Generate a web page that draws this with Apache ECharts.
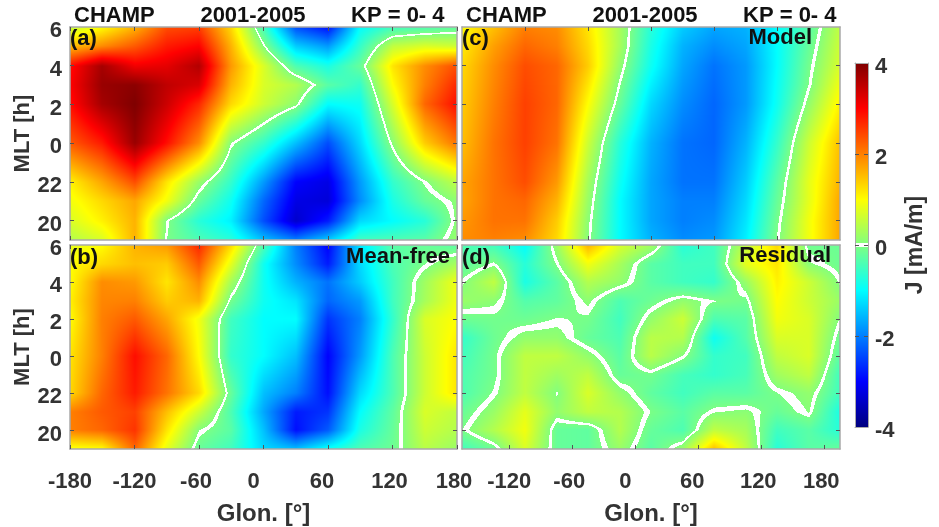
<!DOCTYPE html>
<html><head><meta charset="utf-8">
<style>html,body{margin:0;padding:0;background:#fff}#c{width:939px;height:527px}</style>
<script src="https://cdn.jsdelivr.net/npm/echarts@6/dist/echarts.min.js"></script>
</head><body><div id="c"></div>
<script>
// ---------- data ----------
const mltNodes = [19,20,21,22,24,26,27,28,29,30];            // hours, 24 = 0 h, 30 = 6 h
const mltNodesResidual = [19,20,21,22,23,24,25,26,27,28,29,30];
const lonNodesLeft  = [-180,-150,-120,-90,-60,-30,0,30,60,90,120,150,180];
const lonNodesRight = [-165,-135,-105,-75,-45,-15,15,45,75,105,135,165,195];
const lonTickLabels = ['-180','-120','-60','0','60','120','180'];
const mltTickValues = [20,22,24,26,28,30];
const mltTickLabels = ['20','22','0','2','4','6'];
const colorbarTicks = [-4,-2,0,2,4];

const panelA = [ // rows follow mltNodes
 [0.4,0.7,1.6,-0.05,-0.4,-0.7,-1.5,-2.0,-1.4,-0.5,-0.4,-0.3,0.2],
 [0.7,1.1,1.6,0.0,-0.7,-1.1,-2.4,-3.4,-2.8,-1.3,-1.0,-0.7,0.1],
 [0.9,1.3,1.7,0.9,-0.2,-0.9,-2.2,-3.2,-3.3,-1.9,-0.8,-0.2,0.1],
 [1.1,1.7,2.4,1.2,0.2,-0.6,-1.8,-3.0,-3.2,-1.8,-0.6,0.0,0.5],
 [2.3,2.8,3.8,2.9,1.9,0.05,-0.6,-1.5,-2.4,-1.3,0.1,1.4,2.1],
 [2.9,3.7,4.0,3.4,2.7,1.3,0.6,0.1,-1.0,-0.9,0.7,2.2,2.9],
 [3.0,3.8,3.9,3.5,3.3,1.6,0.7,0.4,-0.3,-0.6,1.0,2.0,2.7],
 [2.9,3.7,3.1,3.2,3.6,1.8,0.7,-0.4,-0.8,-0.2,1.2,1.9,2.4],
 [1.5,1.9,2.3,2.8,3.0,1.6,0.03,-1.4,-1.8,-0.6,0.5,0.7,0.6],
 [0.5,1.0,1.6,2.4,2.5,1.3,-0.5,-2.4,-2.9,-1.0,-0.5,-0.4,-0.25]
];
const panelB = [
 [0.9,1.0,2.2,0.8,-0.2,-0.5,-1.3,-1.5,-0.9,-0.4,-0.15,0.45,0.2],
 [2.0,2.2,2.6,1.2,0.05,-0.3,-1.5,-2.9,-2.3,-0.8,-0.2,0.6,0.4],
 [2.0,2.3,2.5,1.5,0.6,-0.4,-1.7,-2.8,-2.6,-1.0,-0.25,0.7,0.5],
 [1.3,2.2,2.8,2.1,1.3,-0.2,-1.5,-2.0,-2.9,-1.3,-0.4,0.6,1.2],
 [1.2,2.0,2.9,2.2,1.0,-0.6,-1.0,-1.5,-3.0,-1.8,-0.4,0.6,1.2],
 [1.0,2.0,2.3,1.7,0.9,-0.5,-1.0,-1.0,-2.6,-2.0,-0.6,0.7,1.0],
 [1.1,1.95,2.0,1.4,1.6,-0.1,-0.9,-1.2,-2.2,-1.8,-0.5,0.3,0.9],
 [1.0,1.9,1.8,1.2,1.9,0.3,-0.9,-1.6,-2.1,-1.4,-0.5,0.25,0.9],
 [1.0,1.3,1.5,1.4,2.3,0.8,-0.9,-1.9,-2.8,-1.3,-0.4,-0.05,0.3],
 [0.8,1.0,1.6,1.8,2.7,1.3,-0.4,-2.0,-3.0,-1.2,-0.3,-0.2,-0.3]
];
const panelC = [
 [1.9,2.0,1.9,1.3,0.05,-1.0,-1.6,-1.9,-1.8,-1.1,-0.03,0.9,1.7],
 [1.8,2.1,2.1,1.4,0.1,-1.0,-1.7,-2.0,-1.9,-1.2,-0.1,0.9,1.7],
 [1.7,2.1,2.2,1.6,0.2,-1.0,-1.7,-2.0,-2.0,-1.3,-0.2,0.8,1.7],
 [1.7,2.1,2.4,1.8,0.3,-0.9,-1.7,-2.1,-2.1,-1.4,-0.3,0.8,1.6],
 [1.5,2.1,2.5,2.1,0.6,-0.7,-1.6,-2.1,-2.2,-1.6,-0.6,0.6,1.5],
 [1.4,2.0,2.5,2.2,1.0,-0.2,-1.3,-1.9,-2.2,-1.8,-0.9,0.15,1.1],
 [1.35,1.95,2.45,2.2,1.2,-0.03,-1.1,-1.8,-2.15,-1.8,-0.95,-0.03,0.9],
 [1.3,1.9,2.4,2.2,1.4,0.15,-0.9,-1.7,-2.1,-1.8,-1.0,-0.1,0.7],
 [1.15,1.75,2.2,2.0,1.3,0.3,-0.8,-1.6,-1.9,-1.7,-1.0,-0.2,0.6],
 [1.0,1.5,2.0,1.9,1.2,0.3,-0.7,-1.4,-1.7,-1.6,-1.0,-0.3,0.5]
];
const panelD = [ // rows follow mltNodesResidual
 [-0.5,-0.15,0.7,-0.2,-0.25,0.2,-0.3,0.2,1.5,0.5,-0.7,-0.3,-0.2],
 [-0.05,0.4,0.9,-0.2,-0.25,0.4,-0.2,-0.4,0.5,0.3,-0.5,-0.3,-0.7],
 [-0.2,0.2,0.8,0.15,0.5,0.4,-0.05,-0.3,0.03,0.1,-0.2,0.06,-0.8],
 [-0.4,-0.02,0.5,0.02,0.7,0.15,-0.25,-0.5,-0.3,-0.3,-0.05,0.15,-0.5],
 [-0.4,-0.1,0.5,0.25,0.5,-0.2,-0.1,-0.45,-0.6,-0.45,0.25,0.5,-0.5],
 [-0.5,-0.1,0.5,0.5,0.15,-0.3,0.45,0.03,-0.6,-0.5,0.5,0.7,-0.3],
 [-0.6,-0.15,0.15,0.15,-0.2,-0.4,0.45,0.4,-0.9,-0.35,0.7,0.7,-0.15],
 [-0.15,-0.1,-0.15,-0.03,-0.08,-0.5,0.15,0.6,-0.4,-0.3,0.9,0.7,0.03],
 [0.2,0.1,-0.35,-0.25,0.1,-0.4,-0.15,0.15,-0.03,-0.1,1.0,0.6,0.2],
 [0.0,0.5,-0.8,-0.3,0.4,0.15,-0.3,-0.5,-0.6,0.2,1.1,0.6,0.01],
 [-0.3,0.0,-0.7,-0.02,0.9,0.3,-0.3,-0.5,-0.5,0.8,1.2,0.08,-0.15],
 [-0.4,-0.5,-1.0,0.2,1.6,0.7,0.27,-0.7,-0.5,0.5,1.3,-0.15,-0.15]
];

// ---------- colour scale: jet with a white band at zero ----------
const jet = [[-4,[0,0,127]],[-3,[0,0,255]],[-1,[0,255,255]],[0,[128,255,128]],[1,[255,255,0]],[3,[255,0,0]],[4,[127,0,0]]];
const zeroBand = 0.045;
function colour(v){
  if (Math.abs(v) <= zeroBand) return [255,255,255];
  v = Math.max(-4, Math.min(4, v));
  for (let k = 0; k < jet.length - 1; k++) {
    const a = jet[k], b = jet[k+1];
    if (v <= b[0]) {
      const t = (v - a[0]) / (b[0] - a[0]);
      return [0,1,2].map(i => a[1][i] + (b[1][i] - a[1][i]) * t);
    }
  }
  return jet[jet.length-1][1];
}

// One data item = one cell of read values; its four corners are shaded at pixel level.
function cellsFrom(lons, mlts, rows){
  const out = [];
  for (let j = 0; j < mlts.length - 1; j++)
    for (let i = 0; i < lons.length - 1; i++)
      out.push([lons[i], mlts[j], lons[i+1], mlts[j+1], rows[j][i], rows[j][i+1], rows[j+1][i], rows[j+1][i+1]]);
  return out;
}
function renderCell(params, api){
  const p0 = api.coord([api.value(0), api.value(3)]);   // top-left
  const p1 = api.coord([api.value(2), api.value(1)]);   // bottom-right
  const x = Math.round(p0[0]), y = Math.round(p0[1]);
  const w = Math.max(1, Math.round(p1[0]) - x), h = Math.max(1, Math.round(p1[1]) - y);
  const bl = api.value(4), br = api.value(5), tl = api.value(6), tr = api.value(7);
  const cv = document.createElement('canvas'); cv.width = w; cv.height = h;
  const g = cv.getContext('2d'), im = g.createImageData(w, h);
  for (let py = 0; py < h; py++) for (let px = 0; px < w; px++) {
    const u = (px + .5) / w, t = (py + .5) / h;
    const val = (tl*(1-u)+tr*u)*(1-t) + (bl*(1-u)+br*u)*t;
    const c = colour(val), o = (py*w+px)*4;
    im.data[o]=c[0]; im.data[o+1]=c[1]; im.data[o+2]=c[2]; im.data[o+3]=255;
  }
  g.putImageData(im,0,0);
  return {type:'image', silent:true, style:{image:cv, x:x, y:y, width:w, height:h}};
}

// ---------- layout ----------
const FONT = '"Liberation Sans", Arial, sans-serif';
const GREY = '#a9a9a9', TICK = '#555', LABEL = '#333', INK = '#111';
const lonNudge = [0,0,-3,-10,-6,-3,-3];
const panels = [
 {rows:panelA, lons:lonNodesLeft,  mlts:mltNodes, min:-180, max:180, left:70,  top:27,  w:387, ticks:[-180,-120,-60,0,60,120,180], xlab:false, ylab:true},
 {rows:panelB, lons:lonNodesLeft,  mlts:mltNodes, min:-180, max:180, left:70,  top:245, w:387, ticks:[-180,-120,-60,0,60,120,180], xlab:true,  ylab:true},
 {rows:panelC, lons:lonNodesRight, mlts:mltNodes, min:-165, max:195, left:462, top:27,  w:378, ticks:[-105,-45,15,75,135], xlab:false, ylab:false},
 {rows:panelD, lons:lonNodesRight, mlts:mltNodesResidual, min:-165, max:195, left:462, top:245, w:378, ticks:[-120,-60,0,60,120,180], xlab:true, ylab:false}
];
const grid=[], xAxis=[], yAxis=[], series=[];
const tickCommon = v => ({show:true, inside:true, length:4, customValues:v, lineStyle:{color:TICK, width:1}});
const lineCommon = {show:true, onZero:false, lineStyle:{color:GREY, width:1.5}};
const rich = {};
const labelStyle = {fontFamily:FONT, fontWeight:'bold', fontSize:22, color:LABEL};
lonNudge.forEach((n,i)=>{ rich['s'+i] = Object.assign({padding:[0,-2*n,0,0]}, labelStyle); });
rich.v = Object.assign({padding:[8,0,0,0]}, labelStyle);

panels.forEach((p,idx)=>{
  grid.push({left:p.left, top:p.top, width:p.w, height:213, show:false});
  const xVals = p.ticks;
  const base = {gridIndex:idx, type:'value', min:p.min, max:p.max, z:5, splitLine:{show:false}, axisLine:lineCommon, axisTick:tickCommon(xVals)};
  xAxis.push(Object.assign({}, base, {position:'bottom',
    name: p.xlab ? 'Glon. [°]' : '', nameLocation:'middle', nameGap:53,
    nameTextStyle:{fontFamily:FONT, fontWeight:'bold', fontSize:24, color:LABEL},
    axisLabel: p.xlab ? {show:true, customValues:xVals, margin:22, rich:rich, hideOverlap:false,
      formatter:(v)=>{ const i=[-180,-120,-60,0,60,120,180].indexOf(v); return '{s'+i+'|'+lonTickLabels[i]+'}'; }} : {show:false}}));
  xAxis.push(Object.assign({}, base, {position:'top', axisLabel:{show:false}}));
  const yBase = {gridIndex:idx, type:'value', min:19, max:30, z:5, splitLine:{show:false}, axisLine:lineCommon, axisTick:tickCommon(mltTickValues.slice(0,5))};
  yAxis.push(Object.assign({}, yBase, {position:'left',
    name: p.ylab ? 'MLT [h]' : '', nameLocation:'middle', nameGap:30, nameRotate:90,
    nameTextStyle:{fontFamily:FONT, fontWeight:'bold', fontSize:22, color:LABEL},
    axisLabel: p.ylab ? {show:true, customValues:mltTickValues, margin:8, rich:rich, hideOverlap:false,
      formatter:(v)=>'{v|'+mltTickLabels[mltTickValues.indexOf(v)]+'}'} : {show:false}}));
  yAxis.push(Object.assign({}, yBase, {position:'right', axisLabel:{show:false}}));
  series.push({type:'custom', xAxisIndex:idx*2, yAxisIndex:idx*2, coordinateSystem:'cartesian2d', silent:true,
    clip:true, animation:false, z:2, renderItem:renderCell, encode:{x:[0,2], y:[1,3]},
    data:cellsFrom(p.lons, p.mlts, p.rows)});
});

// colour bar: one cell spanning the scale, on its own axis
grid.push({left:855, top:63, width:13, height:364, show:false});
xAxis.push({gridIndex:4, type:'value', min:0, max:1, z:5, axisLabel:{show:false}, axisTick:{show:false}, splitLine:{show:false}, axisLine:{show:true,onZero:false,lineStyle:{color:GREY,width:1}}});
xAxis.push({gridIndex:4, type:'value', min:0, max:1, z:5, position:'top', axisLabel:{show:false}, axisTick:{show:false}, splitLine:{show:false}, axisLine:{show:true,onZero:false,lineStyle:{color:GREY,width:1}}});
yAxis.push({gridIndex:4, type:'value', min:-4, max:4, z:5, position:'right', splitLine:{show:false},
  axisLine:{show:true,onZero:false,lineStyle:{color:GREY,width:1}},
  axisTick:{show:true, inside:true, length:4, customValues:[-2,0,2], lineStyle:{color:TICK}},
  axisLabel:{show:true, customValues:colorbarTicks, margin:7, rich:rich, hideOverlap:false, formatter:(v)=>'{v|'+v+'}'},
  name:'J [mA/m]', nameLocation:'middle', nameGap:36, nameRotate:90,
  nameTextStyle:{fontFamily:FONT, fontWeight:'bold', fontSize:23, color:LABEL}});
yAxis.push({gridIndex:4, type:'value', min:-4, max:4, z:5, position:'left', splitLine:{show:false}, axisLabel:{show:false},
  axisLine:{show:true,onZero:false,lineStyle:{color:GREY,width:1}}, axisTick:{show:true, inside:true, length:4, customValues:[-2,0,2], lineStyle:{color:TICK}}});
series.push({type:'custom', xAxisIndex:8, yAxisIndex:8, coordinateSystem:'cartesian2d', silent:true, animation:false, z:2,
  renderItem:renderCell, encode:{x:[0,2], y:[1,3]}, data:[[0,-4,1,4,-4,-4,4,4]]});

// ---------- titles and panel tags ----------
const text = (t,x,y,align,size) => ({type:'text', z:20, silent:true, x:x, y:y,
  style:{text:t, x:0, y:0, align:align, verticalAlign:'middle', fill:INK, fontFamily:FONT, fontWeight:'bold', fontSize:size||21}});
const graphic = [
 text('CHAMP',74,16,'left',22), text('2001-2005',253,16,'center',22), text('KP = 0- 4',351,16,'left',22),
 text('CHAMP',466,16,'left',22), text('2001-2005',645,16,'center',22), text('KP = 0- 4',743,16,'left',22),
 text('(a)',70,39,'left',22), text('(b)',70,258,'left',22), text('(c)',462,39,'left',22), text('(d)',462,258,'left',22),
 text('Model',812,38,'right',22), text('Mean-free',450,257,'right',22), text('Residual',831,256,'right',22)
];

const chart = echarts.init(document.getElementById('c'), null, {renderer:'canvas'});
chart.setOption({backgroundColor:'#fff', animation:false, grid, xAxis, yAxis, series, graphic, tooltip:{show:false}});
</script></body></html>
